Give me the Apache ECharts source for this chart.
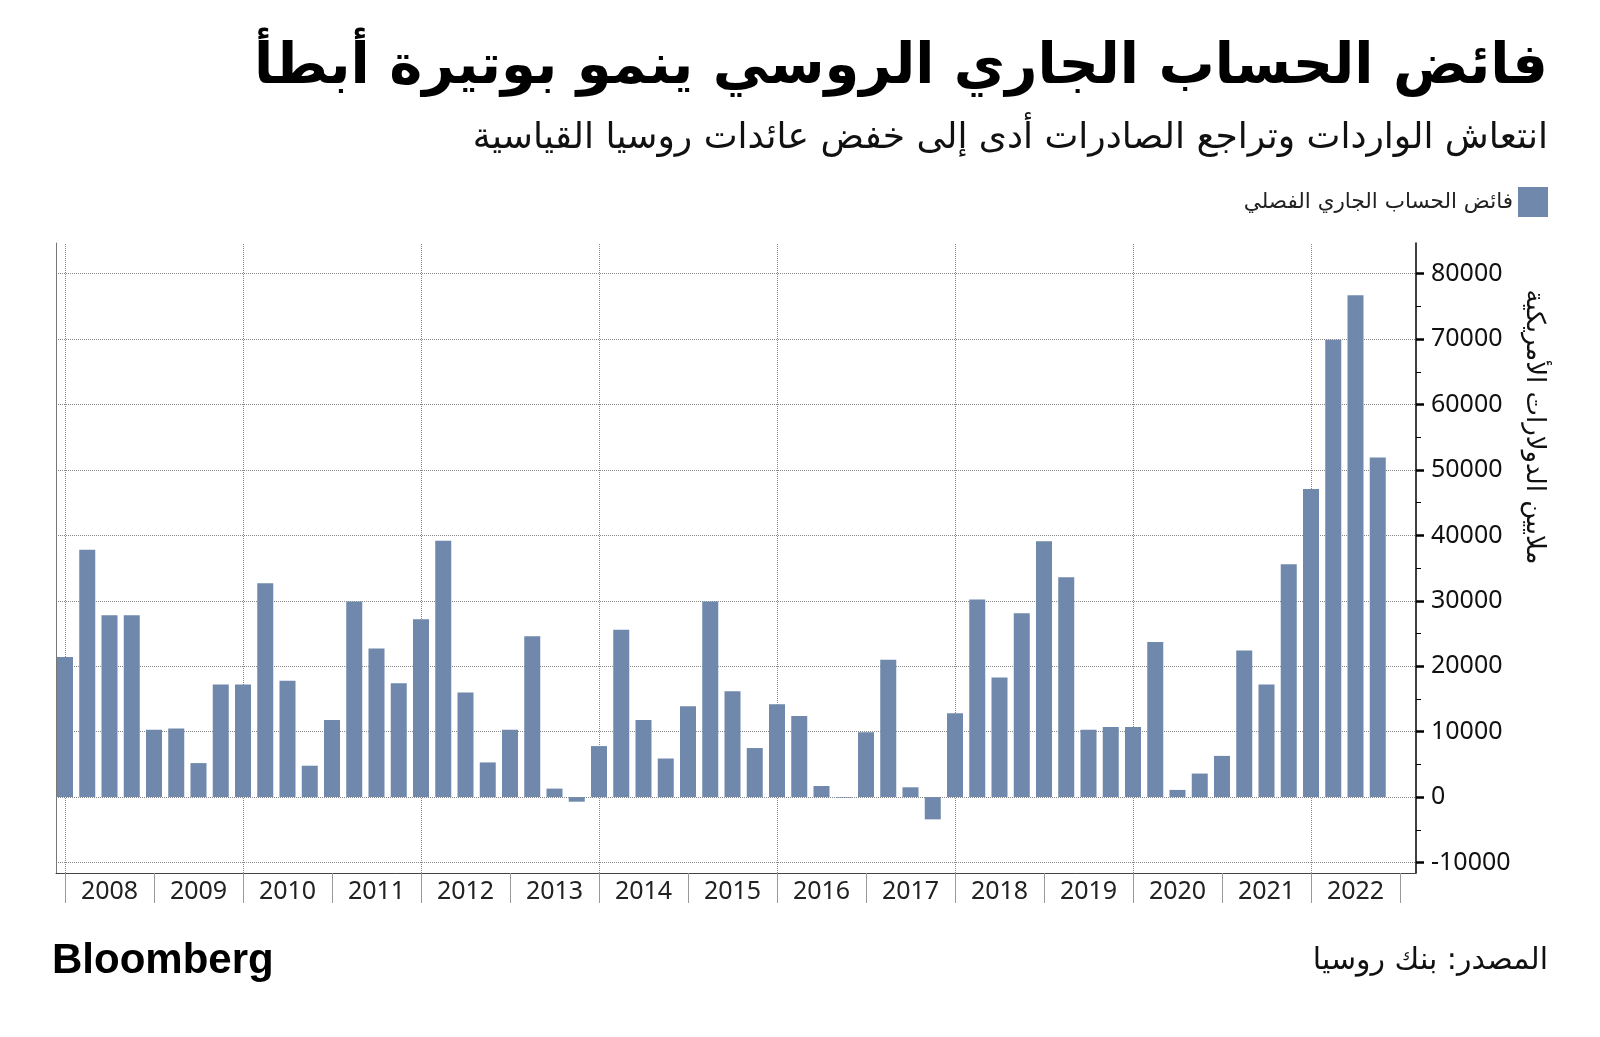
<!DOCTYPE html>
<html><head><meta charset="utf-8">
<script src="https://cdn.jsdelivr.net/npm/echarts@6/dist/echarts.min.js"></script>
<style>html,body{margin:0;padding:0;background:#fff}#c{width:1600px;height:1037px}</style>
</head><body><div id="c"></div>
<script>
// Quarterly current-account surplus, millions USD (Bank of Russia)
const quarters = [
  '2007Q4',
  '2008Q1','2008Q2','2008Q3','2008Q4',
  '2009Q1','2009Q2','2009Q3','2009Q4',
  '2010Q1','2010Q2','2010Q3','2010Q4',
  '2011Q1','2011Q2','2011Q3','2011Q4',
  '2012Q1','2012Q2','2012Q3','2012Q4',
  '2013Q1','2013Q2','2013Q3','2013Q4',
  '2014Q1','2014Q2','2014Q3','2014Q4',
  '2015Q1','2015Q2','2015Q3','2015Q4',
  '2016Q1','2016Q2','2016Q3','2016Q4',
  '2017Q1','2017Q2','2017Q3','2017Q4',
  '2018Q1','2018Q2','2018Q3','2018Q4',
  '2019Q1','2019Q2','2019Q3','2019Q4',
  '2020Q1','2020Q2','2020Q3','2020Q4',
  '2021Q1','2021Q2','2021Q3','2021Q4',
  '2022Q1','2022Q2','2022Q3'
];
const surplus = [
  21400,
  37800, 27800, 27800, 10300,
  10500, 5200, 17200, 17200,
  32700, 17800, 4800, 11800,
  29900, 22700, 17400, 27200,
  39200, 16000, 5300, 10300,
  24600, 1300, -700, 7800,
  25600, 11800, 5900, 13900,
  29900, 16200, 7500, 14200,
  12400, 1700, -100, 9900,
  21000, 1500, -3400, 12800,
  30200, 18300, 28100, 39100,
  33600, 10300, 10700, 10700,
  23700, 1100, 3600, 6300,
  22400, 17200, 35600, 47100,
  69900, 76700, 51900
];
const yearLabels = ['2008','2009','2010','2011','2012','2013','2014','2015','2016','2017','2018','2019','2020','2021','2022'];
const yTicks = [-10000, 0, 10000, 20000, 30000, 40000, 50000, 60000, 70000, 80000];
const gridYears = ['2008','2010','2012','2014','2016','2018','2020','2022'];

const titleText = 'فائض الحساب الجاري الروسي ينمو بوتيرة أبطأ';
const subText = 'انتعاش الواردات وتراجع الصادرات أدى إلى خفض عائدات روسيا القياسية';
const seriesName = 'فائض الحساب الجاري الفصلي';
const axisName = 'ملايين الدولارات الأمريكية';
const sourceText = 'المصدر: بنك روسيا';

// quarter-end position in fractional years
const toX = q => (+q.slice(0,4)) + (+q.slice(5)) / 4;
const barData = quarters.map((q, i) => [toX(q), surplus[i]]);
const firstYear = +yearLabels[0];
const lastYear = +yearLabels[yearLabels.length-1];
const yearBounds = [];
for (let y = firstYear; y <= lastYear + 1; y++) yearBounds.push(y);
const yearMids = yearLabels.map(y => +y + 0.5);

const AR = "'DejaVu Sans', 'Noto Sans', sans-serif";
const NUM = "'Noto Sans', 'DejaVu Sans', sans-serif";
const BAR = '#6F88AB';

const chart = echarts.init(document.getElementById('c'), null, {renderer: 'canvas'});
chart.setOption({
  backgroundColor: '#fff',
  animation: false,
  title: [
    {text: titleText, right: 52, top: 40, padding: 0, textStyle: {fontFamily: AR, fontWeight: 'bold', fontSize: 56, color: '#000'}},
    {text: subText, right: 52, top: 121, padding: 0, textStyle: {fontFamily: AR, fontWeight: 'normal', fontSize: 36, color: '#111'}},
    {text: 'Bloomberg', left: 52, top: 940, padding: 0, textStyle: {fontFamily: "'Liberation Sans', Arial, sans-serif", fontWeight: 'bold', fontSize: 42, color: '#000'}},
    {text: sourceText, right: 52, top: 946, padding: 0, textStyle: {fontFamily: AR, fontWeight: 'normal', fontSize: 30, color: '#111'}}
  ],
  legend: {
    right: 52, top: 187, padding: 0, align: 'right', icon: 'rect', itemWidth: 30, itemHeight: 30, itemGap: 10,
    textStyle: {fontFamily: AR, fontSize: 21.5, color: '#222'},
    data: [seriesName]
  },
  grid: {left: 56, right: 184, top: 243, bottom: 164, containLabel: false},
  xAxis: {
    type: 'value',
    min: firstYear - 9/89,
    max: firstYear + (1416-65)/89,
    axisLine: {show: true, onZero: false, lineStyle: {color: '#444', width: 1}},
    axisTick: {show: true, customValues: yearBounds, length: 30, lineStyle: {color: '#999', width: 1}},
    axisLabel: {show: true, customValues: yearMids, margin: 6, fontFamily: NUM, fontSize: 25, color: '#222',
      formatter: v => String(Math.floor(v))},
    splitLine: {show: false}
  },
  yAxis: [
    {
      type: 'value', position: 'right',
      min: -11600, max: 84700, splitNumber: 10,
      axisLine: {show: true, onZero: false, lineStyle: {color: '#000', width: 1.5}},
      axisTick: {show: true, customValues: yTicks, length: 8, inside: false, lineStyle: {color: '#000', width: 2.5}},
      minorTick: {show: true, splitNumber: 2, length: 5, lineStyle: {color: '#000', width: 1}},
      axisLabel: {show: true, customValues: yTicks, margin: 15, fontFamily: NUM, fontSize: 25, color: '#111',
        formatter: v => String(v)},
      splitLine: {show: true, lineStyle: {type: 'dotted', color: '#888', width: 1}}
    },
    {
      type: 'value', position: 'left',
      min: -11600, max: 84700,
      axisLine: {show: true, onZero: false, lineStyle: {color: '#777', width: 1}},
      axisTick: {show: false}, axisLabel: {show: false}, splitLine: {show: false}
    }
  ],
  graphic: [
    {type: 'text', x: 1534, y: 427, rotation: -Math.PI/2,
     style: {text: axisName, fontFamily: AR, fontSize: 26, fill: '#111', align: 'center', verticalAlign: 'middle'}}
  ],
  series: [{
    name: seriesName,
    type: 'bar',
    yAxisIndex: 0,
    barWidth: 16,
    itemStyle: {color: BAR},
    data: barData,
    markLine: {
      silent: true, z: 1, symbol: 'none', label: {show: false},
      lineStyle: {type: 'dotted', color: '#888', width: 1},
      data: gridYears.map(y => ({xAxis: +y}))
    }
  }]
});
</script></body></html>
